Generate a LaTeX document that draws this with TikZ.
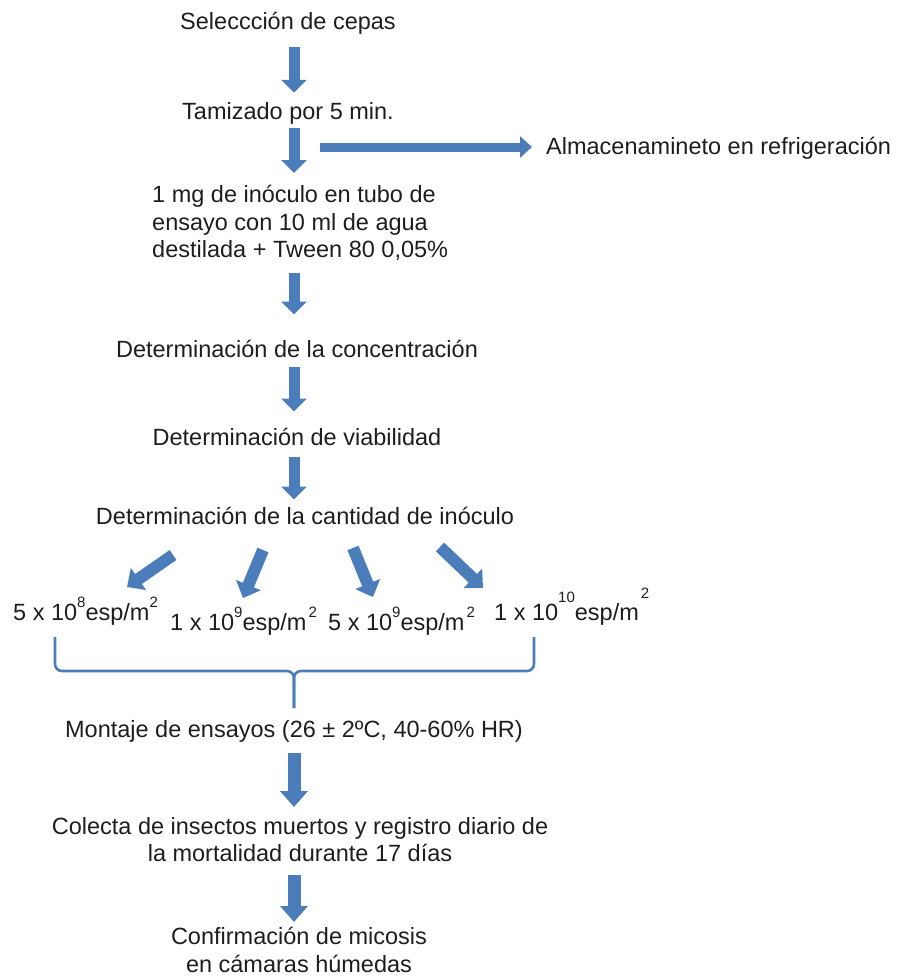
\documentclass[tikz,border=0pt]{standalone}
\usepackage{fontspec}
\setmainfont{Liberation Sans}
\usetikzlibrary{arrows.meta}
\definecolor{arrowblue}{HTML}{4A7DBA}
\definecolor{txtcol}{HTML}{1E1E1E}
\newcommand\supx[2]{\raisebox{#1}{\fontsize{15}{15}\selectfont #2}}
\begin{document}
\begin{tikzpicture}[x=1pt,y=-1pt,
  lbl/.style={inner sep=0pt, text=txtcol, font=\fontsize{23.5}{27.5}\selectfont},
  blk/.style={draw=arrowblue, line width=11pt, -{Triangle[width=25pt,length=13pt]}},
  blkbig/.style={draw=arrowblue, line width=13pt, -{Triangle[width=27pt,length=16pt]}},
  blkh/.style={draw=arrowblue, line width=9pt, -{Triangle[width=21pt,length=12pt]}},
  blkd/.style={draw=arrowblue, line width=12pt, -{Triangle[width=26pt,length=14pt]}},
  bracecol/.style={draw=arrowblue, line width=2.6pt, rounded corners=7pt}]
\useasboundingbox[fill=white] (0,0) rectangle (899,980);
\coordinate (ax) at (294,0);

\node[lbl, anchor=base] (sel) at (288,29) {Seleccción de cepas};
\node[lbl, anchor=base] (tam) at (288,119) {Tamizado por 5 min.};
\node[lbl, anchor=base west] (alm) at (546,154) {Almacenamineto en refrigeración};
\node[lbl, anchor=north west, align=left] (ino) at (152,185) {1 mg de inóculo en tubo de\\ensayo con 10 ml de agua\\destilada + Tween 80 0,05\%};
\node[lbl, anchor=base] (conc) at (297,357) {Determinación de la concentración};
\node[lbl, anchor=base] (viab) at (297,445) {Determinación de viabilidad};
\node[lbl, anchor=base] (cant) at (305,524) {Determinación de la cantidad de inóculo};

\node[lbl, anchor=base west] (c1) at (13,620) {5 x 10\supx{0.55em}{8}esp/m\supx{0.55em}{2}};
\node[lbl, anchor=base west] (c2) at (170,630) {1 x 10\supx{0.55em}{9}esp/m\kern2pt\supx{0.55em}{2}};
\node[lbl, anchor=base west] (c3) at (328,630) {5 x 10\supx{0.55em}{9}esp/m\kern2pt\supx{0.55em}{2}};
\node[lbl, anchor=base west] (c4) at (494,620) {1 x 10\supx{0.75em}{10}esp/m\kern2pt\supx{0.9em}{2}};

\node[lbl, anchor=base] (mont) at (294,737) {Montaje de ensayos (26 ± 2ºC, 40-60\% HR)};
\node[lbl, anchor=north, align=center] (col) at (300,817) {Colecta de insectos muertos y registro diario de\\la mortalidad durante 17 días};
\node[lbl, anchor=north, align=center] (conf) at (299,927) {Confirmación de micosis\\en cámaras húmedas};

% vertical block arrows
\draw[blk, shorten <=13pt, shorten >=9pt] (sel.south -| ax) -- (tam.north -| ax);
\draw[blk, shorten <=4pt, shorten >=12pt] (tam.south -| ax) -- (ino.north -| ax);
\draw[blk, shorten <=12pt, shorten >=25pt] (ino.south -| ax) -- (conc.north -| ax);
\draw[blk, shorten <=10pt, shorten >=16pt] (conc.south -| ax) -- (viab.north -| ax);
\draw[blk, shorten <=12pt, shorten >=7pt] (viab.south -| ax) -- (cant.north -| ax);
\draw[blkbig, shorten <=11pt, shorten >=10pt] (mont.south -| ax) -- (col.north -| ax);
\draw[blkbig, shorten <=13pt, shorten >=5pt] (col.south -| ax) -- (conf.north -| ax);

% horizontal arrow
\coordinate (hs) at (320,147);
\draw[blkh, shorten >=14pt] (hs) -- (alm.west |- hs);

% diagonal arrows
\coordinate (d1s) at (173,555); \coordinate (d1e) at (127,587);
\coordinate (d2s) at (263,550); \coordinate (d2e) at (243,598);
\coordinate (d3s) at (353,548); \coordinate (d3e) at (373,597);
\coordinate (d4s) at (440,547); \coordinate (d4e) at (483,588);
\draw[blkd] (d1s) -- (d1e);
\draw[blkd] (d2s) -- (d2e);
\draw[blkd] (d3s) -- (d3e);
\draw[blkd] (d4s) -- (d4e);

% brace
\coordinate (bl) at (55,637);
\coordinate (br) at (534,637);
\coordinate (bm) at (294,708);
\draw[bracecol] (bl) |- (294,671) -- (bm);
\draw[bracecol] (br) |- (294,671) -- (bm);
\end{tikzpicture}
\end{document}
